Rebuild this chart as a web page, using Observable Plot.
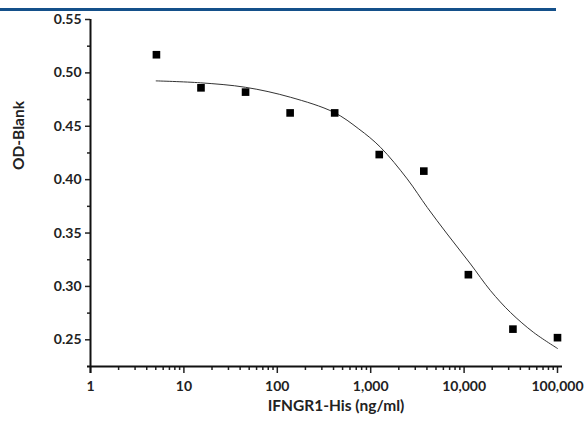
<!DOCTYPE html>
<html>
<head>
<meta charset="utf-8">
<script src="https://cdn.jsdelivr.net/npm/d3@7"></script>
<script src="https://cdn.jsdelivr.net/npm/@observablehq/plot@0.6"></script>
<style>
  html, body { margin: 0; padding: 0; background: #fff; }
  #wrap { position: relative; width: 584px; height: 430px; }
  #bar { position: absolute; left: 0; top: 8px; width: 556px; height: 3px; background: #14508a; }
  svg { font-family: Lato, "Open Sans", sans-serif; }
  g[aria-label="x-axis tick label"], g[aria-label="y-axis tick label"],
  g[aria-label="x-axis tick label"] text, g[aria-label="y-axis tick label"] text {
    font-size: 14px !important; font-weight: bold !important;
  }
</style>
</head>
<body>
<div id="wrap"><div id="bar"></div></div>
<script>
// Measured points (dose in ng/ml, OD - blank)
const doses = [5.08, 15.24, 45.72, 137.2, 411.5, 1234.6, 3703.7, 11111, 33333, 100000];
const od    = [0.517, 0.486, 0.482, 0.4625, 0.4625, 0.4235, 0.408, 0.311, 0.260, 0.252];

// Fitted curve
const curveX = [5.05, 15.1, 45.7, 138, 403, 746, 1274, 2460, 4030, 6590, 11720, 19190, 31400, 55700, 100000];
const curveY = [0.4925, 0.4907, 0.4865, 0.4772, 0.4631, 0.4475, 0.4303, 0.4007, 0.374, 0.3491, 0.321, 0.296, 0.2756, 0.2568, 0.2419];

// Ticks
const xMajor = [1, 10, 100, 1000, 10000, 100000];
const xMinor = [2,3,4,5,6,7,8,9, 20,30,40,50,60,70,80,90, 200,300,400,500,600,700,800,900,
                2000,3000,4000,5000,6000,7000,8000,9000, 20000,30000,40000,50000,60000,70000,80000,90000];
const yMajor = [0.25, 0.30, 0.35, 0.40, 0.45, 0.50, 0.55];
const yMinor = [0.275, 0.325, 0.375, 0.425, 0.475, 0.525];

const xLabel = "IFNGR1-His (ng/ml)";
const yLabel = "OD-Blank";

const points = doses.map((d, i) => ({dose: d, od: od[i]}));
const curve = curveX.map((d, i) => ({dose: d, od: curveY[i]}));

const chart = Plot.plot({
  width: 584,
  height: 430,
  marginLeft: 90,
  marginRight: 27,
  marginTop: 19,
  marginBottom: 64,
  style: {fontFamily: "Lato, 'Open Sans', sans-serif", fontSize: "14px", fontWeight: "bold", color: "#222", background: "transparent"},
  x: {type: "log", domain: [1, 100000]},
  y: {domain: [0.225, 0.55]},
  marks: [
    Plot.axisX({ticks: xMinor, tickSize: 4, tickFormat: () => "", strokeWidth: 1.5, label: null}),
    Plot.axisX({ticks: xMajor, tickSize: 7, tickPadding: 8, tickFormat: d3.format(","), strokeWidth: 1.5, label: null}),
    Plot.axisY({ticks: yMinor, tickSize: 3, tickFormat: () => "", strokeWidth: 1.5, label: null}),
    Plot.axisY({ticks: yMajor, tickSize: 5, tickPadding: 4, tickFormat: d3.format(".2f"), strokeWidth: 1.5, label: null}),
    Plot.ruleY([0.225], {stroke: "#111", strokeWidth: 2, insetLeft: -3, insetRight: -5}),
    Plot.ruleX([1], {stroke: "#111", strokeWidth: 2, insetBottom: -7}),
    Plot.line(curve, {x: "dose", y: "od", curve: "catmull-rom", stroke: "#333", strokeWidth: 1}),
    Plot.dot(points, {x: "dose", y: "od", symbol: "square", r: 4.3, fill: "#000", stroke: "none"}),
    Plot.text([xLabel], {frameAnchor: "bottom", dx: 12, dy: 44, text: d => d, fontWeight: "bold", fontSize: 15.5, fill: "#222"}),
    Plot.text([yLabel], {frameAnchor: "left", dx: -71, dy: -23, rotate: -90, text: d => d, fontWeight: "bold", fontSize: 15.5, fill: "#222"})
  ]
});
document.getElementById("wrap").appendChild(chart);
chart.style.position = "absolute";
chart.style.left = "0";
chart.style.top = "0";
</script>
</body>
</html>
